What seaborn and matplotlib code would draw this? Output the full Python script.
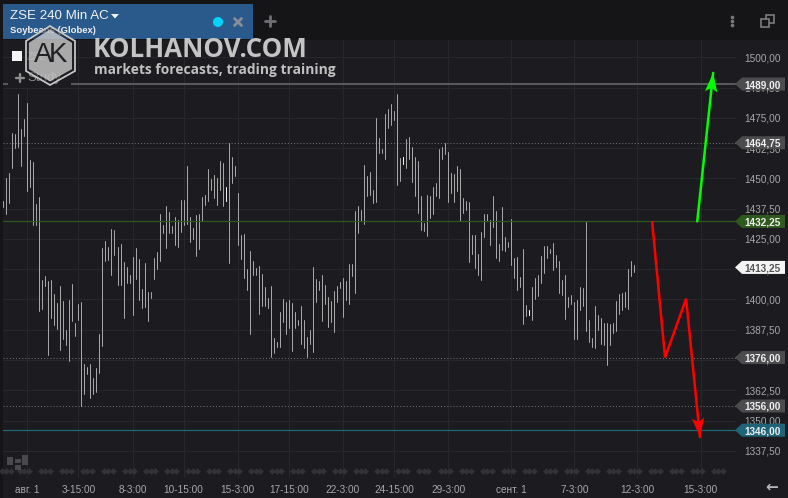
import matplotlib
matplotlib.use('Agg')
import matplotlib.pyplot as plt
from matplotlib.patches import Polygon, Rectangle, Circle
import numpy as np
import pandas as pd
import seaborn as sns

# values
highs = [1440.7, 1450.2, 1452.3, 1468.8, 1468.4, 1485.0, 1470.5, 1474.6, 1481.2, 1457.6,
         1456.8, 1439.5, 1442.4, 1408.1, 1409.7, 1407.6, 1408.1, 1402.3, 1398.6, 1405.6,
         1399.4, 1387.4, 1399.8, 1406.4, 1390.3, 1398.2, 1399.0, 1373.4, 1372.1, 1373.4,
         1367.6, 1371.7, 1385.8, 1421.3, 1424.2, 1421.7, 1429.1, 1428.7, 1421.7, 1423.0,
         1415.5, 1413.4, 1410.1, 1417.6, 1421.3, 1416.7, 1404.4, 1415.1, 1403.1, 1403.1,
         1417.2, 1419.6, 1435.3, 1430.8, 1438.6, 1436.2, 1430.4, 1434.1, 1432.8, 1441.1,
         1441.1, 1455.2, 1434.1, 1429.5, 1434.9, 1435.3, 1442.4, 1443.2, 1454.0, 1449.8,
         1451.4, 1450.2, 1457.2, 1456.4, 1446.5, 1464.7, 1458.9, 1455.2, 1444.0, 1426.7,
         1427.1, 1412.6, 1420.0, 1415.9, 1413.0, 1413.8, 1410.5, 1405.2, 1400.6, 1405.6,
         1384.1, 1382.4, 1394.8, 1400.2, 1399.0, 1399.8, 1398.6, 1394.8, 1391.5, 1397.3,
         1391.5, 1384.5, 1387.4, 1413.4, 1408.5, 1407.6, 1410.1, 1406.0, 1401.0, 1399.4,
         1403.5, 1405.6, 1407.2, 1408.9, 1407.6, 1414.7, 1414.7, 1436.6, 1438.6, 1437.0,
         1455.6, 1451.0, 1452.7, 1445.2, 1475.0, 1466.7, 1462.2, 1476.7, 1478.7, 1480.8,
         1477.9, 1485.0, 1458.5, 1458.9, 1466.3, 1467.2, 1463.0, 1458.9, 1457.2, 1442.8,
         1431.6, 1443.2, 1442.8, 1446.5, 1448.1, 1462.2, 1463.0, 1464.7, 1461.0, 1452.3,
         1451.9, 1455.2, 1454.0, 1442.0, 1440.7, 1440.3, 1426.7, 1426.7, 1418.8, 1427.9,
         1435.3, 1435.3, 1432.8, 1442.8, 1436.6, 1423.0, 1438.2, 1425.8, 1423.8, 1433.3,
         1417.2, 1417.6, 1409.3, 1420.9, 1397.7, 1395.7, 1405.2, 1408.9, 1410.1, 1418.0,
         1422.1, 1422.1, 1420.9, 1423.4, 1418.4, 1415.9, 1408.1, 1410.1, 1401.0, 1401.9,
         1399.0, 1399.8, 1405.2, 1404.8, 1432.0, 1391.5, 1384.1, 1397.3, 1393.6, 1392.4,
         1390.3, 1390.3, 1389.9, 1390.3, 1399.4, 1402.3, 1402.7, 1403.1, 1412.6, 1415.9,
         1414.3]
lows = [1438.2, 1435.3, 1439.9, 1454.3, 1462.6, 1463.0, 1455.2, 1467.6, 1444.8, 1446.5,
        1430.8, 1430.8, 1395.3, 1396.1, 1405.6, 1377.1, 1392.4, 1389.5, 1387.8, 1379.1,
        1383.7, 1381.2, 1374.6, 1391.1, 1384.9, 1391.5, 1356.0, 1361.0, 1369.2, 1359.3,
        1361.0, 1361.8, 1369.6, 1380.8, 1415.9, 1416.3, 1410.1, 1418.4, 1406.0, 1406.0,
        1392.4, 1406.8, 1406.8, 1393.6, 1408.5, 1399.8, 1396.5, 1396.9, 1391.1, 1400.6,
        1408.5, 1412.6, 1415.9, 1427.5, 1421.3, 1427.5, 1427.5, 1422.5, 1421.7, 1427.9,
        1430.8, 1431.2, 1423.8, 1425.0, 1418.0, 1420.9, 1432.4, 1439.1, 1440.7, 1445.2,
        1442.0, 1439.1, 1445.2, 1438.6, 1440.7, 1415.1, 1448.1, 1451.0, 1422.5, 1416.7,
        1408.9, 1404.0, 1385.8, 1410.1, 1410.1, 1394.0, 1397.3, 1397.3, 1396.5, 1376.2,
        1377.9, 1380.4, 1380.4, 1390.7, 1385.8, 1388.2, 1378.7, 1388.2, 1389.5, 1381.6,
        1380.0, 1376.2, 1381.6, 1378.3, 1399.0, 1404.0, 1391.1, 1398.2, 1388.6, 1390.7,
        1386.6, 1399.0, 1404.8, 1392.8, 1399.8, 1398.2, 1409.7, 1402.7, 1427.5, 1432.4,
        1431.2, 1442.8, 1443.2, 1439.9, 1440.3, 1460.5, 1460.5, 1458.1, 1470.9, 1472.1,
        1474.2, 1447.3, 1449.0, 1456.0, 1454.3, 1458.1, 1448.6, 1442.8, 1435.7, 1428.7,
        1428.3, 1426.2, 1433.7, 1435.3, 1442.8, 1442.0, 1458.1, 1460.1, 1440.3, 1444.0,
        1440.3, 1444.8, 1432.4, 1435.7, 1437.0, 1415.5, 1418.8, 1413.0, 1410.1, 1408.1,
        1425.8, 1432.4, 1422.5, 1430.0, 1417.2, 1415.9, 1420.5, 1420.0, 1421.7, 1414.3,
        1408.9, 1404.0, 1405.2, 1389.9, 1393.2, 1393.6, 1391.5, 1400.2, 1401.5, 1406.8,
        1411.0, 1417.2, 1419.2, 1412.2, 1413.4, 1402.7, 1401.9, 1392.0, 1396.9, 1398.2,
        1383.7, 1383.7, 1395.7, 1397.3, 1387.0, 1382.5, 1380.4, 1380.0, 1387.4, 1381.6,
        1381.2, 1373.0, 1381.2, 1386.2, 1387.0, 1394.0, 1395.7, 1396.9, 1396.1, 1409.7,
        1411.4]
white_bars = [74, 133, 175]

price_ticks = [1337.5, 1350, 1362.5, 1375, 1387.5, 1400, 1412.5, 1425, 1437.5, 1450,
               1462.5, 1475, 1487.5, 1500]
time_ticks = [8, 25, 43, 60, 78, 95, 113, 130, 148, 169, 190, 211, 232]
time_labels = ['авг. 1', '3-15:00', '8-3:00', '10-15:00', '15-3:00', '17-15:00', '22-3:00',
               '24-15:00', '29-3:00', 'сент. 1', '7-3:00', '12-3:00', '15-3:00']
marker_bars = [1, 7, 14, 21, 28, 35, 42, 49, 56, 63, 70, 77, 84, 91, 98, 105, 112, 119, 126,
               133, 140, 147, 154, 161, 168, 175, 182, 189, 196, 203, 210, 217, 224, 231, 238]

red_x = [215.9, 220.2, 227.2, 231.8]
red_y = [1432.0, 1376.0, 1400.3, 1343.2]
green_x = [230.9, 236.2]
green_y = [1432.25, 1493.6]

last_price = 1413.25
levels = [1489.0, 1464.75, 1432.25, 1376.0, 1356.0, 1346.0]
level_colors = ['#58585a', '#707072', '#2f5a1e', '#707072', '#707072', '#1f6a78']
tag_colors = ['#4c4c4e', '#4c4c4e', '#2f5a1e', '#4c4c4e', '#4c4c4e', '#1f6478']

BG = '#1c1c20'
TOP = '#151518'

sns.set_theme(style='dark', rc={'figure.facecolor': BG, 'axes.facecolor': BG})
plt.rcParams['font.family'] = ['Liberation Sans', 'DejaVu Sans']

fig = plt.figure(figsize=(7.88, 4.98), dpi=100)
ax = fig.add_axes([3 / 788, 20 / 498, 733 / 788, 438 / 498])

rows = []
for i in range(len(highs)):
    rows.append({'bar': i, 'price': highs[i]})
    rows.append({'bar': i, 'price': lows[i]})
df = pd.DataFrame(rows)

sns.lineplot(data=df, x='bar', y='price', units='bar', estimator=None, sort=False,
             color='#ababab', lw=0.7, ax=ax, zorder=3)
sns.lineplot(data=df[df['bar'].isin(white_bars)], x='bar', y='price', units='bar',
             estimator=None, sort=False, color='#f2f2f2', lw=0.7, ax=ax, zorder=3)

ax.set_xlim(-0.1, 243.8)
ax.set_ylim(1326.25, 1507.2)
ax.set_xlabel('')
ax.set_ylabel('')
ax.yaxis.tick_right()
ax.set_yticks(price_ticks, [f'{p:.2f}'.replace('.', ',') for p in price_ticks])
ax.set_xticks(time_ticks, time_labels)
ax.tick_params(axis='y', length=0, pad=6.3, labelsize=7.2, labelcolor='#a8a8a8')
ax.tick_params(axis='x', length=0, pad=5, labelsize=7.2, labelcolor='#a8a8a8')
ax.grid(True, color='#28282c', lw=0.8)
ax.set_axisbelow(True)
for s in ax.spines.values():
    s.set_visible(False)

for lv, c in zip(levels, level_colors):
    if lv == 1489.0:
        ax.axhline(lv, color=c, lw=1.5, zorder=2)
    elif c == '#707072':
        ax.axhline(lv, color=c, lw=0.75, ls=(0, (1, 2)), zorder=2)
    else:
        ax.axhline(lv, color=c, lw=0.85, zorder=4)

ax.plot(red_x, red_y, color='#ff0000', lw=1.8, zorder=5, solid_joinstyle='miter')
ax.plot(green_x, green_y, color='#00ff00', lw=1.8, zorder=5)

# header, tags and logo drawn in pixels on top of the chart
top = fig.add_axes([0, 0, 1, 1], facecolor='none')
top.set_xlim(0, 788)
top.set_ylim(498, 0)
top.axis('off')

fig.canvas.draw()


def to_px(x, y):
    px, py = ax.transData.transform((x, y))
    return px, 498 - py


def arrow_head(x0, y0, x1, y1, color):
    a = np.array(to_px(x0, y0))
    b = np.array(to_px(x1, y1))
    d = (b - a) / np.linalg.norm(b - a)
    n = np.array([-d[1], d[0]])
    pts = [b, b - 19 * d + 6.2 * n, b - 15 * d, b - 19 * d - 6.2 * n]
    top.add_patch(Polygon(pts, closed=True, fc=color, ec='none', zorder=6))


arrow_head(red_x[-2], red_y[-2], red_x[-1], red_y[-1], '#ff0000')
arrow_head(green_x[-2], green_y[-2], green_x[-1], green_y[-1], '#00ff00')


def price_tag(price, color, text_color):
    y = to_px(0, price)[1]
    top.add_patch(Polygon([(735, y), (742, y - 6.5), (785, y - 6.5), (785, y + 6.5), (742, y + 6.5)],
                          closed=True, fc=color, ec='none', zorder=5))
    top.text(744.7, y, f'{price:.2f}'.replace('.', ','), color=text_color, fontsize=7.2,
             fontweight='bold', va='center_baseline', ha='left', zorder=6)


for lv, c in zip(levels, tag_colors):
    price_tag(lv, c, '#f0f0f0')
price_tag(last_price, '#f4f4f4', '#555555')

# session markers along the bottom
for b in marker_bars:
    xs = [3.3 + 3.005 * b + d for d in (-4.5, 0, 4.5)]
    top.scatter(xs, [471] * 3, marker='D', s=12, color='#333337', lw=0, zorder=2)

# top strip and tab
top.add_patch(Rectangle((0, 0), 788, 40, fc=TOP, ec='none', zorder=1))
top.add_patch(Rectangle((0, 0), 3, 498, fc=TOP, ec='none', zorder=1))
top.add_patch(Rectangle((3, 4), 250, 35, fc='#2a5a8c', ec='none', zorder=2))
top.text(10.5, 16, 'ZSE 240 Min AC', color='#f2f2f2', fontsize=9.6, va='center', zorder=3)
top.add_patch(Polygon([(111, 14), (119, 14), (115, 18.5)], fc='#f2f2f2', ec='none', zorder=3))
top.text(10.5, 30, 'Soybeans (Globex)', color='#eeeeee', fontsize=6.8, fontweight='bold',
         va='center', zorder=3)
top.add_patch(Circle((218, 22), 5, fc='#00d4ff', ec='none', zorder=3))
top.plot([234.5, 241.5], [18.5, 25.5], color='#8a8f96', lw=2, zorder=3)
top.plot([234.5, 241.5], [25.5, 18.5], color='#8a8f96', lw=2, zorder=3)
top.plot([265.5, 275.5], [21, 21], color='#707074', lw=2, zorder=3)
top.plot([270.5, 270.5], [16, 26], color='#707074', lw=2, zorder=3)
top.scatter([732.5] * 3, [17, 21, 25], marker='o', s=7, color='#77777a', lw=0, zorder=3)
top.add_patch(Rectangle((766, 15), 8, 8, fc='none', ec='#7c7c80', lw=1.2, zorder=3))
top.add_patch(Rectangle((761, 19), 8, 8, fc=TOP, ec='#7c7c80', lw=1.2, zorder=3))

# study chip under the logo
top.add_patch(Rectangle((8, 70), 63, 18, fc=BG, ec='none', zorder=3))
top.add_patch(Rectangle((12.5, 51), 10, 10, fc='#f4f4f4', ec='none', zorder=4))
top.text(27, 56.5, 'ZSE', color='#8a8a8a', fontsize=7.5, va='center', zorder=4)
top.plot([16, 24], [78, 78], color='#8e8e8e', lw=1.7, zorder=4)
top.plot([20, 20], [74, 82], color='#8e8e8e', lw=1.7, zorder=4)
top.text(27, 78, 'Study', color='#8e8e8e', fontsize=9.5, va='center', zorder=4)

# logo
hexagon = np.array([(50, 26), (75, 41), (75, 71), (50, 85), (26, 71), (26, 41)])
inner = (hexagon - [50, 55.5]) * 0.88 + [50, 55.5]
top.add_patch(Polygon(hexagon, closed=True, fc='#202024', ec='#c4c4c4', lw=1.2, alpha=0.55, zorder=7))
top.add_patch(Polygon(hexagon, closed=True, fc='none', ec='#c8c8c8', lw=1.1, zorder=7))
top.add_patch(Polygon(inner, closed=True, fc='#ffffff', ec='none', alpha=0.62, zorder=7))
top.text(43, 55, 'A', color='#222226', fontsize=20, ha='center', va='center', zorder=8)
top.text(58, 55, 'K', color='#222226', fontsize=20, ha='center', va='center', zorder=8)
top.text(93, 49, 'KOLHANOV.COM', color='#c4c4c4', fontsize=18.7, fontweight='bold', va='center',
         family='Open Sans', zorder=8)
top.text(94, 70, 'markets forecasts, trading training', color='#c0c0c0', fontsize=9.9,
         fontweight='bold', va='center', family='Open Sans', zorder=8)

# bottom corner icon and arrow
for bx, by, bw, bh in [(7, 457, 6, 8), (15, 459, 6, 4), (15, 465, 6, 5), (22, 455, 6, 10)]:
    top.add_patch(Rectangle((bx, by), bw, bh, fc='#4a4a4e', ec='none', zorder=3))
top.text(772, 487, '←', color='#b8b8b8', fontsize=11, fontweight='bold', ha='center', va='center',
         family='DejaVu Sans', zorder=3)

fig.savefig('out.png', dpi=100, facecolor=BG)
